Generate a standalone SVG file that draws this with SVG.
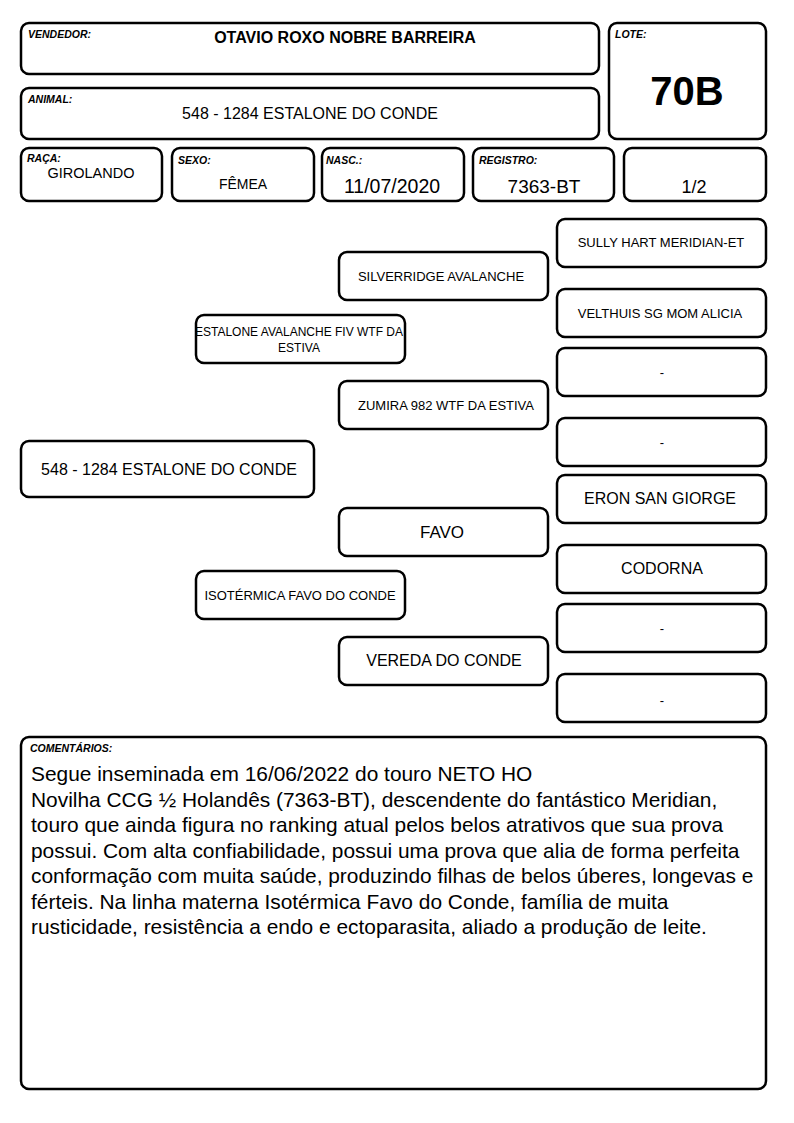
<svg xmlns="http://www.w3.org/2000/svg" width="794" height="1123" viewBox="0 0 794 1123">
<style>
.b{fill:#fff;stroke:#000;stroke-width:2.5}
.l{font-family:"Liberation Sans",Arial,sans-serif;font-size:10.5px;font-weight:bold;font-style:italic}
.t{font-family:"Liberation Sans",Arial,sans-serif;text-anchor:middle}
.s{font-size:13px}
.m{font-size:16px}
.v{font-size:19px}
.c{font-family:"Liberation Sans",Arial,sans-serif;font-size:20.9px}
</style>
<rect width="794" height="1123" fill="#fff"/>
<g id="vendedor"><rect class="b" x="21" y="23" width="578" height="51" rx="8"/><text class="l" x="28" y="38">VENDEDOR:</text><text class="t" x="345" y="43" font-size="16" font-weight="bold">OTAVIO ROXO NOBRE BARREIRA</text></g>
<g id="lote"><rect class="b" x="609" y="23" width="157" height="116" rx="8"/><text class="l" x="615" y="38">LOTE:</text><text class="t" x="687" y="105" font-size="40" font-weight="bold">70B</text></g>
<g id="animal"><rect class="b" x="21" y="88" width="578" height="51" rx="8"/><text class="l" x="28" y="103">ANIMAL:</text><text class="t m" x="310" y="119">548 - 1284 ESTALONE DO CONDE</text></g>
<g id="raca"><rect class="b" x="21" y="148" width="141" height="53" rx="8"/><text class="l" x="27" y="162">RAÇA:</text><text class="t" x="91" y="178" font-size="14.5">GIROLANDO</text></g>
<g id="sexo"><rect class="b" x="172" y="148" width="142" height="53" rx="8"/><text class="l" x="178" y="164">SEXO:</text><text class="t" x="243" y="189" font-size="14">FÊMEA</text></g>
<g id="nasc"><rect class="b" x="322" y="148" width="142" height="53" rx="8"/><text class="l" x="326" y="164">NASC.:</text><text class="t" x="392" y="193" font-size="19.5">11/07/2020</text></g>
<g id="registro"><rect class="b" x="473" y="148" width="141" height="53" rx="8"/><text class="l" x="479" y="164">REGISTRO:</text><text class="t v" x="544" y="193">7363-BT</text></g>
<g id="parte"><rect class="b" x="624" y="148" width="142" height="53" rx="8"/><text class="t" x="694" y="193" font-size="18">1/2</text></g>
<g id="connectors"></g>
<g id="sully"><rect class="b" x="557" y="219" width="209" height="48" rx="8"/><text class="t s" x="661" y="247">SULLY HART MERIDIAN-ET</text></g>
<g id="silverridge"><rect class="b" x="339" y="252" width="209" height="48" rx="8"/><text class="t s" x="441" y="281">SILVERRIDGE AVALANCHE</text></g>
<g id="velthuis"><rect class="b" x="557" y="289" width="209" height="48" rx="8"/><text class="t s" x="660" y="318">VELTHUIS SG MOM ALICIA</text></g>
<g id="estalone"><rect class="b" x="196" y="315" width="209" height="48" rx="8"/><text class="t" x="299" y="336" font-size="12">ESTALONE AVALANCHE FIV WTF DA</text><text class="t" x="299" y="352" font-size="12">ESTIVA</text></g>
<g id="ggm1"><rect class="b" x="557" y="348" width="209" height="48" rx="8"/><text class="t s" x="662" y="377">-</text></g>
<g id="zumira"><rect class="b" x="339" y="381" width="209" height="48" rx="8"/><text class="t s" x="446" y="410">ZUMIRA 982 WTF DA ESTIVA</text></g>
<g id="ggm2"><rect class="b" x="557" y="418" width="209" height="48" rx="8"/><text class="t s" x="662" y="447">-</text></g>
<g id="main"><rect class="b" x="21" y="441" width="293" height="56" rx="8"/><text class="t m" x="169" y="475">548 - 1284 ESTALONE DO CONDE</text></g>
<g id="eron"><rect class="b" x="557" y="475" width="209" height="48" rx="8"/><text class="t m" x="660" y="504">ERON SAN GIORGE</text></g>
<g id="favo"><rect class="b" x="339" y="508" width="209" height="48" rx="8"/><text class="t" x="442" y="538" font-size="17">FAVO</text></g>
<g id="codorna"><rect class="b" x="557" y="545" width="209" height="48" rx="8"/><text class="t m" x="662" y="574">CODORNA</text></g>
<g id="isotermica"><rect class="b" x="196" y="571" width="209" height="48" rx="8"/><text class="t s" x="300" y="600">ISOTÉRMICA FAVO DO CONDE</text></g>
<g id="ggm3"><rect class="b" x="557" y="604" width="209" height="48" rx="8"/><text class="t s" x="662" y="633">-</text></g>
<g id="vereda"><rect class="b" x="339" y="637" width="209" height="48" rx="8"/><text class="t m" x="444" y="666">VEREDA DO CONDE</text></g>
<g id="ggm4"><rect class="b" x="557" y="674" width="209" height="48" rx="8"/><text class="t s" x="662" y="705">-</text></g>
<g id="comentarios"><rect class="b" x="21" y="737" width="745" height="352" rx="8"/><text class="l" x="30" y="752" font-size="9.5">COMENTÁRIOS:</text>
<text class="c" x="31" y="781">Segue inseminada em 16/06/2022 do touro NETO HO</text>
<text class="c" x="31" y="806.5">Novilha CCG ½ Holandês (7363-BT), descendente do fantástico Meridian,</text>
<text class="c" x="31" y="832">touro que ainda figura no ranking atual pelos belos atrativos que sua prova</text>
<text class="c" x="31" y="857.5">possui. Com alta confiabilidade, possui uma prova que alia de forma perfeita</text>
<text class="c" x="31" y="883">conformação com muita saúde, produzindo filhas de belos úberes, longevas e</text>
<text class="c" x="31" y="908.5">férteis. Na linha materna Isotérmica Favo do Conde, família de muita</text>
<text class="c" x="31" y="934">rusticidade, resistência a endo e ectoparasita, aliado a produção de leite.</text>
</g>
</svg>
